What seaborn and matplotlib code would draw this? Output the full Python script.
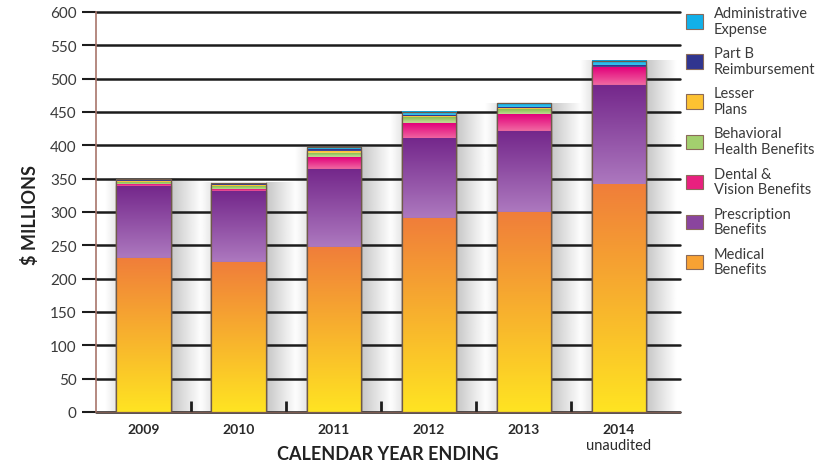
import numpy as np
import matplotlib.pyplot as plt
import seaborn as sns
from matplotlib.colors import LinearSegmentedColormap, to_rgb
from matplotlib.patches import Patch
from matplotlib.ticker import FixedLocator

# data ($ millions)
years = ['2009', '2010', '2011', '2012', '2013', '2014']
medical = [231, 225, 247, 291, 300, 341]
prescription = [108, 106, 117, 119, 121, 150]
dental = [2, 2, 18, 24, 25, 27]
behavioral = [4, 5, 6, 8, 8, 0]
lesser = [1, 2, 3, 1, 1, 0]
part_b = [1, 1, 2, 2, 3, 2]
admin = [3, 3, 4, 5, 5, 7]

# bottom -> top: label, values, top colour, bottom colour, legend colour
layers = [
    ('Medical\nBenefits', medical, '#f07e3a', '#ffe422', '#f8a233'),
    ('Prescription\nBenefits', prescription, '#74278b', '#ad79bf', '#8a459e'),
    ('Dental &\nVision Benefits', dental, '#e2007a', '#f16aa3', '#e8207f'),
    ('Behavioral\nHealth Benefits', behavioral, '#86bd4e', '#c8e29e', '#a3cf6e'),
    ('Lesser\nPlans', lesser, '#fbb216', '#ffe27c', '#fdc232'),
    ('Part B\nReimbursement', part_b, '#282c80', '#4b50a8', '#30358f'),
    ('Administrative\nExpense', admin, '#00a4df', '#3cc8f5', '#12b0e9'),
]

sns.set_style('white')
plt.rcParams['font.family'] = ['Lato', 'DejaVu Sans']

cum = np.cumsum([l[1] for l in layers], axis=0)
bottoms = np.vstack([np.zeros(len(years)), cum[:-1]])

fig = plt.figure(figsize=(8.27, 4.64), dpi=100)
ax = fig.add_axes([0.116, 0.110, 0.706, 0.862])
edge = '#6e5a4a'
bar_w = 0.57
grad = np.linspace(0, 1, 256).reshape(-1, 1)

# draw cumulative bars from the top layer down so each lower one covers the rest
for k, i in enumerate(reversed(range(len(layers)))):
    name, vals, ctop, cbot, _ = layers[i]
    n0 = len(ax.patches)
    sns.barplot(x=years, y=cum[i], color=cbot, saturation=1, width=bar_w,
                edgecolor=edge, linewidth=0.8, zorder=3 + k, ax=ax)
    cmap = LinearSegmentedColormap.from_list(name, [cbot, ctop])
    for j, p in enumerate(ax.patches[n0:]):
        if cum[i][j] - bottoms[i][j] <= 0:
            continue
        x0, w = p.get_x(), p.get_width()
        ax.imshow(grad, cmap=cmap, aspect='auto', origin='lower',
                  extent=[x0, x0 + w, bottoms[i][j], cum[i][j]],
                  zorder=3 + k + 0.5, interpolation='bicubic')
        if i == 0:
            # soft shadows beside each bar
            sh = np.zeros((2, 64, 4))
            sh[..., :3] = to_rgb('#808080')
            sh[..., 3] = np.linspace(0.45, 0, 64)
            ax.imshow(sh, aspect='auto', origin='lower', zorder=0.3,
                      extent=[x0 + w, x0 + w + 0.32, 0, cum[-1][j]],
                      interpolation='bilinear')
            sl = np.zeros((2, 32, 4))
            sl[..., :3] = to_rgb('#909090')
            sl[..., 3] = np.linspace(0, 0.22, 32)
            ax.imshow(sl, aspect='auto', origin='lower', zorder=0.3,
                      extent=[x0 - 0.12, x0, 0, cum[-1][j]],
                      interpolation='bilinear')

# outline of full bars
sns.barplot(x=years, y=cum[-1], fill=False, color=edge, width=bar_w,
            linewidth=0.9, zorder=20, ax=ax)

ax.set_xlim(-0.5, 5.64)
ax.set_ylim(0, 600)
ax.set_yticks(range(0, 601, 50))
ax.set_axisbelow(True)
ax.grid(axis='y', color='#1c1c1c', linewidth=1.8)
ax.grid(axis='x', visible=False)
for gl in ax.get_ygridlines():
    gl.set_clip_on(False)

ax.tick_params(axis='y', direction='out', length=10, width=1.5, color='#1c1c1c',
               labelsize=11, labelcolor='#3a3a3a', pad=4, left=True)
ax.tick_params(axis='x', length=0, labelsize=10, labelcolor='#2a2a2a', pad=8)
for t in ax.get_xticklabels():
    t.set_fontweight('bold')
ax.xaxis.set_minor_locator(FixedLocator([0.5, 1.5, 2.5, 3.5, 4.5]))
ax.tick_params(axis='x', which='minor', direction='in', length=8, width=2,
               color='#1c1c1c', bottom=True)
ax.text(5, -0.066, 'unaudited', transform=ax.get_xaxis_transform(),
        ha='center', va='top', fontsize=10.5, color='#2a2a2a')

for s in ['top', 'right']:
    ax.spines[s].set_visible(False)
ax.spines['left'].set_color('#a8756b')
ax.spines['left'].set_linewidth(1.2)
ax.spines['bottom'].set_color('#7a5a50')
ax.spines['bottom'].set_linewidth(1.0)
ax.set_xlabel('')
ax.set_ylabel('')

fig.text(0.469, 1 - 455 / 464, 'CALENDAR YEAR ENDING', ha='center', va='center',
         fontsize=13, fontweight='bold', color='#222222')
fig.text(30 / 827, 1 - 215 / 464, '$ MILLIONS', ha='center', va='center',
         rotation=90, fontsize=13, fontweight='bold', color='#222222')

handles = [Patch(facecolor=l[4], edgecolor='#8a6a5a', linewidth=0.8, label=l[0])
           for l in reversed(layers)]
leg = fig.legend(handles=handles, loc='upper left',
                 bbox_to_anchor=(683 / 827, 1 - 4 / 464), frameon=False,
                 borderaxespad=0, borderpad=0.2,
                 fontsize=10.5, handlelength=1.15, handleheight=1.15,
                 handletextpad=0.75, labelspacing=0.72)
for t in leg.get_texts():
    t.set_color('#3a3a3a')
    t.set_linespacing(1.15)

fig.savefig('out.png', dpi=100)
